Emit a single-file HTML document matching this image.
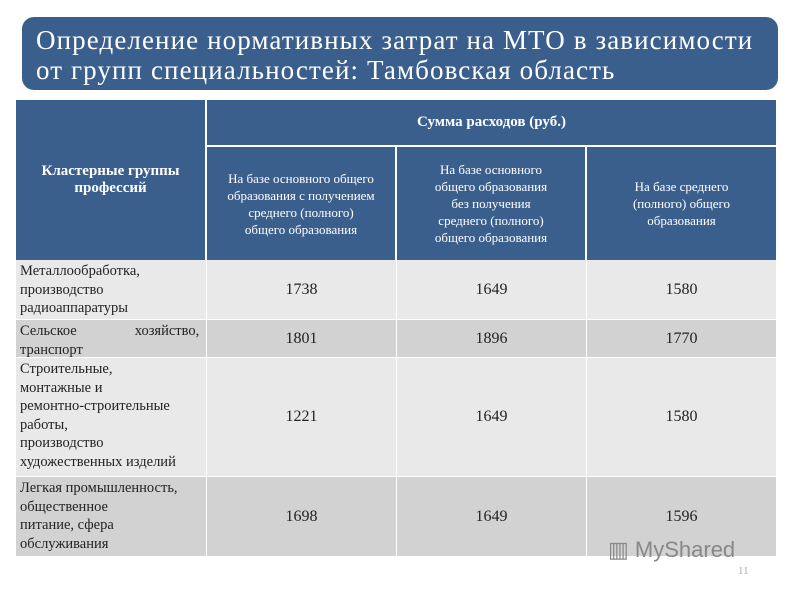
<!DOCTYPE html>
<html><head><meta charset="utf-8"><style>
body{margin:0;width:800px;height:600px;background:#fff;position:relative;overflow:hidden;font-family:"Liberation Serif","Noto Serif CJK SC",serif}
.title{position:absolute;left:22px;top:17px;width:756px;height:73px;background:#3b5f8d;border-radius:12px;color:#fff;font-family:"Liberation Serif",serif;font-size:27px;line-height:30px;padding:8px 0 0 14px;box-sizing:border-box;letter-spacing:1.1px}
.c{position:absolute;box-sizing:border-box;display:flex;align-items:center;justify-content:center;text-align:center}
.h{background:#3b5f8d;color:#fff}
.l{justify-content:flex-start;align-items:flex-start;text-align:left;padding:2px 4px;font-size:14.5px;line-height:18.5px;color:#222;white-space:nowrap}
.v{font-size:16px;color:#222}
.r1{background:#e9e9e9}.r2{background:#d2d2d2}
</style></head><body>
<div class="title">Определение нормативных затрат на МТО в зависимости<br>от групп специальностей: Тамбовская область</div>
<div class="c h" style="left:16px;top:100px;width:189px;height:160px;font-weight:bold;font-size:15px">Кластерные группы<br>профессий</div>
<div class="c h" style="left:207px;top:100px;width:569px;height:45px;font-weight:bold;font-size:15px">Сумма расходов (руб.)</div>
<div class="c h" style="left:207px;top:147px;width:188px;height:113px;font-size:13px;line-height:17px">На базе основного общего<br>образования с получением<br>среднего (полного)<br>общего образования</div>
<div class="c h" style="left:397px;top:147px;width:188px;height:113px;font-size:13px;line-height:17px">На базе основного<br>общего образования<br>без получения<br>среднего (полного)<br>общего образования</div>
<div class="c h" style="left:587px;top:147px;width:189px;height:113px;font-size:13px;line-height:17px">На базе среднего<br>(полного) общего<br>образования</div>
<div id="rows"></div>
<div style="position:absolute;left:608px;top:537px;font-family:'Liberation Sans',sans-serif;font-size:22px;color:#888">▥ MyShared</div>
<div style="position:absolute;left:738px;top:565px;font-size:11px;color:#aaa">11</div>
<script>
const labels=["Металлообработка,<br>производство<br>радиоаппаратуры","Сельское&nbsp;&nbsp;&nbsp;&nbsp;&nbsp;&nbsp;&nbsp;&nbsp;&nbsp;&nbsp;&nbsp;&nbsp;&nbsp;&nbsp;&nbsp;&nbsp;хозяйство,<br>транспорт","Строительные,<br>монтажные и<br>ремонтно-строительные<br>работы,<br>производство<br>художественных изделий","Легкая промышленность,<br>общественное<br>питание, сфера<br>обслуживания"];
const col1=[1738,1801,1221,1698];
const col2=[1649,1896,1649,1649];
const col3=[1580,1770,1580,1596];
const tops=[260,320,358,477,557];
const xs=[16,207,397,587,777];
const root=document.getElementById('rows');
labels.forEach((lab,i)=>{
  const t=tops[i],h=tops[i+1]-t-1,cls=i%2?'r2':'r1';
  const vals=[lab,col1[i],col2[i],col3[i]];
  vals.forEach((v,j)=>{
    const d=document.createElement('div');
    d.className='c '+cls+(j?' v':' l');
    d.style.cssText=`left:${xs[j]}px;top:${t}px;width:${xs[j+1]-xs[j]-1}px;height:${h}px`;
    d.innerHTML=v;
    
    
    root.appendChild(d);
  });
});
</script>
</body></html>
